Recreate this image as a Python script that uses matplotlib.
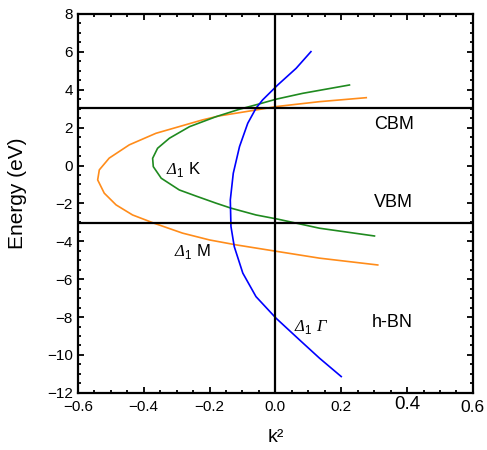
import numpy as np
import matplotlib
matplotlib.use('Agg')
from matplotlib import pyplot as plt
from matplotlib.ticker import MultipleLocator
from matplotlib.transforms import ScaledTranslation

plt.rcParams['font.family'] = ['Liberation Sans', 'DejaVu Sans']
# Greek capitals are drawn from the "rm" math font, so point it at an italic face
plt.rcParams['mathtext.fontset'] = 'custom'
plt.rcParams['mathtext.rm'] = 'Liberation Serif:italic'
plt.rcParams['mathtext.bf'] = 'Liberation Sans'

# band energies (eV) and k^2
e_gamma = [6.01, 5.13, 4.25, 3.46, 3.02, 2.23, 1.0, -0.41, -1.82, -3.22, -4.28, -5.68, -6.92, -8.06, -9.2, -10.17, -11.14]
k2_gamma = [0.108, 0.063, 0.007, -0.039, -0.059, -0.084, -0.109, -0.128, -0.137, -0.135, -0.125, -0.099, -0.059, 0.002, 0.073, 0.134, 0.200]

e_k = [4.25, 3.81, 3.5, 3.25, 2.97, 2.58, 2.05, 1.44, 0.91, 0.38, -0.06, -0.67, -1.29, -1.62, -1.99, -2.25, -2.61, -2.83, -3.31, -3.72]
k2_k = [0.225, 0.083, 0.002, -0.049, -0.109, -0.18, -0.261, -0.322, -0.358, -0.373, -0.371, -0.347, -0.292, -0.24, -0.18, -0.135, -0.059, 0.007, 0.134, 0.301]

e_m = [3.58, 3.37, 3.11, 2.93, 2.62, 2.41, 1.7, 1.09, 0.39, -0.23, -0.76, -1.46, -2.08, -2.61, -3.05, -3.57, -3.93, -4.19, -4.54, -4.89, -5.25]
k2_m = [0.276, 0.134, 0.002, -0.059, -0.17, -0.221, -0.363, -0.444, -0.505, -0.535, -0.54, -0.52, -0.484, -0.434, -0.368, -0.282, -0.2, -0.119, 0.007, 0.134, 0.311]

cbm = 3.03
vbm = -3.03

fig = plt.figure(figsize=(4.87, 4.5), dpi=100)
ax = fig.add_axes([0.160, 0.127, 0.811, 0.842])

ax.plot(k2_m, e_m, color='#ff8c1a', lw=1.2)
ax.plot(k2_k, e_k, color='#1f8a1f', lw=1.2)
ax.plot(k2_gamma, e_gamma, color='#0000ff', lw=1.2)

ax.axhline(cbm, color='black', lw=1.6)
ax.axhline(vbm, color='black', lw=1.6)
ax.axvline(0, color='black', lw=1.6)

ax.set_xlim(-0.6, 0.6)
ax.set_ylim(-12, 8)
ax.xaxis.set_minor_locator(MultipleLocator(0.05))
ax.yaxis.set_minor_locator(MultipleLocator(0.5))
ax.tick_params(which='both', direction='in', top=True, right=True, width=1.3)
ax.tick_params(which='major', length=4.5, labelsize=11)
ax.tick_params(which='minor', length=2.5)
for s in ax.spines.values():
    s.set_linewidth(1.6)

xt = [-0.6, -0.4, -0.2, 0.0, 0.2, 0.4, 0.6]
ax.set_xticks(xt)
ax.set_xticklabels(['\u22120.6', '\u22120.4', '\u22120.2', '0.0', '0.2', '0.4', '0.6'])
yt = np.arange(-12, 9, 2)
ax.set_yticks(yt)
ax.set_yticklabels(['\u2212' + str(abs(v)) if v < 0 else str(v) for v in yt])
ax.tick_params(axis='x', pad=5)
# the last two x labels are set larger in the original
labels = ax.get_xticklabels()
labels[5].set_fontsize(13.5)
labels[5].set_transform(labels[5].get_transform() + ScaledTranslation(0, 3 / 72, fig.dpi_scale_trans))
labels[6].set_fontsize(12.5)

ax.set_xlabel('k\u00b2', fontsize=14)
ax.xaxis.set_label_coords(0.5, -0.095)
ax.set_ylabel('Energy (eV)', fontsize=15)
ax.yaxis.set_label_coords(-0.128, 0.526)

ax.text(-0.332, -0.23, r'$\Delta_{\mathbf{1}}$ K', fontsize=12, va='center')
ax.text(-0.307, -4.54, r'$\Delta_{\mathbf{1}}$ M', fontsize=12, va='center')
ax.text(0.058, -8.5, r'$\Delta_{\mathbf{1}}\ \Gamma$', fontsize=12, va='center')
ax.text(0.36, 2.15, 'CBM', fontsize=13, ha='center', va='center')
ax.text(0.36, -1.95, 'VBM', fontsize=13, ha='center', va='center')
ax.text(0.355, -8.3, 'h-BN', fontsize=13, ha='center', va='center')

fig.savefig('out.png', dpi=100)
